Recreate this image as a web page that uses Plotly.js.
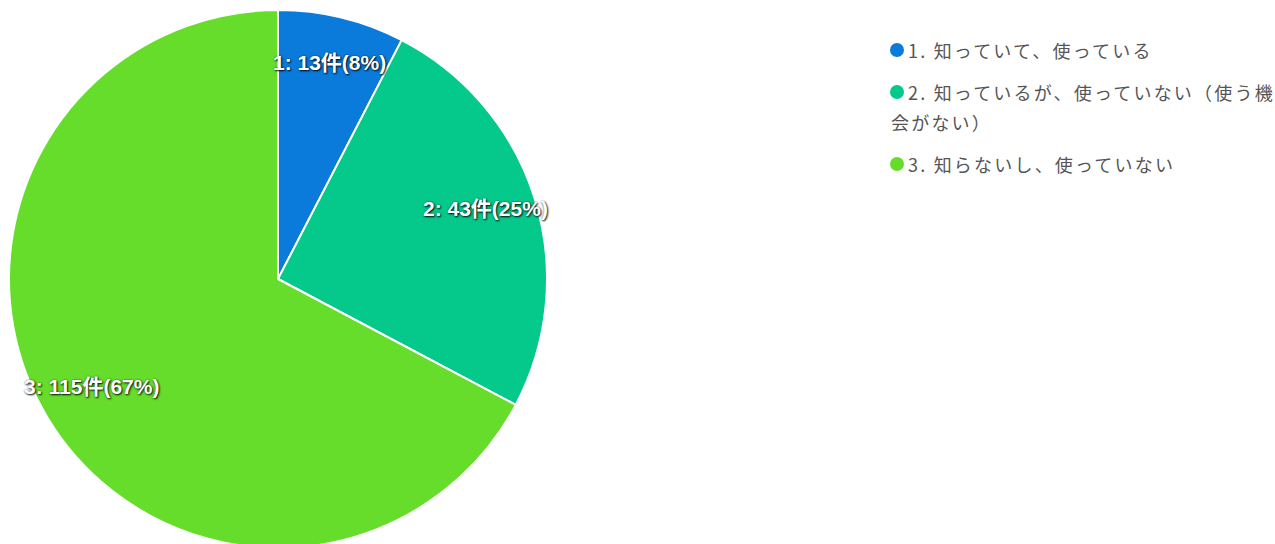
<!DOCTYPE html>
<html><head><meta charset="utf-8">
<script src="https://cdn.plot.ly/plotly-3.0.1.min.js"></script>
<style>html,body{margin:0;padding:0;overflow:hidden;background:#fff}#chart{width:1275px;height:560px}</style>
</head><body><div id="chart"></div>
<script>
const categories = ["1. 知っていて、使っている", "2. 知っているが、使っていない（使う機会がない）", "3. 知らないし、使っていない"];
const legendLines = [["1. 知っていて、使っている"], ["2. 知っているが、使っていない（使う機", "会がない）"], ["3. 知らないし、使っていない"]];
const counts = [13, 43, 115];
const colors = ["#0a7bdb", "#05c98a", "#66dd2b"];

const W = 1275, H = 560;
const cx = 278, cy = 279, R = 269;
const total = counts.reduce((a, b) => a + b, 0);

const annotations = [];
// slice labels placed along each slice's mid-angle
let cum = 0;
counts.forEach((v, i) => {
  const mid = (cum + v / 2) / total * 2 * Math.PI;
  cum += v;
  const f = 0.81;
  const px = cx + f * R * Math.sin(mid);
  const py = cy - f * R * Math.cos(mid);
  annotations.push({
    xref: 'paper', yref: 'paper', x: px / W, y: 1 - py / H, yshift: 5,
    xanchor: 'center', yanchor: 'middle', showarrow: false,
    text: (i + 1) + ': ' + v + '件(' + Math.round(100 * v / total) + '%)',
    font: {family: "'Liberation Sans', Arial, 'Noto Sans CJK JP'", size: 21, weight: 'bold', color: '#ffffff',
           shadow: '1px 1px 2px rgba(0,0,0,0.9), 0px 0px 2px rgba(0,0,0,0.5)'}
  });
});

// legend drawn as text rows with circle markers
const shapes = [];
let ly = 50;
legendLines.forEach((lines, i) => {
  lines.forEach((ln, j) => {
    if (j > 0) ly += 30;
    if (j === 0) {
      shapes.push({type: 'circle', xref: 'paper', yref: 'paper',
        x0: 890 / W, x1: 904 / W, y0: 1 - (ly + 7) / H, y1: 1 - (ly - 7) / H,
        fillcolor: colors[i], line: {width: 0}});
    }
    annotations.push({
      xref: 'paper', yref: 'paper', x: (j === 0 ? 906 : 889) / W, y: 1 - ly / H,
      xanchor: 'left', yanchor: 'middle', showarrow: false, align: 'left',
      text: '<span style="letter-spacing:2.2px">' + ln + '</span>',
      font: {family: "'Noto Sans CJK JP', 'Noto Sans'", size: 18, color: '#555555'}
    });
  });
  ly += 42;
});

const data = [{
  type: 'pie', labels: categories, values: counts, sort: false, direction: 'clockwise', rotation: 0,
  marker: {colors: colors, line: {color: '#ffffff', width: 2}},
  textinfo: 'none', hoverinfo: 'label+value+percent',
  domain: {x: [(cx - R) / W, (cx + R) / W], y: [1 - (cy + R) / H, 1 - (cy - R) / H]}
}];

const layout = {
  width: W, height: H, margin: {l: 0, r: 0, t: 0, b: 0},
  paper_bgcolor: '#ffffff', showlegend: false,
  annotations: annotations, shapes: shapes
};
Plotly.newPlot('chart', data, layout, {displayModeBar: false, staticPlot: true});
</script>
</body></html>
